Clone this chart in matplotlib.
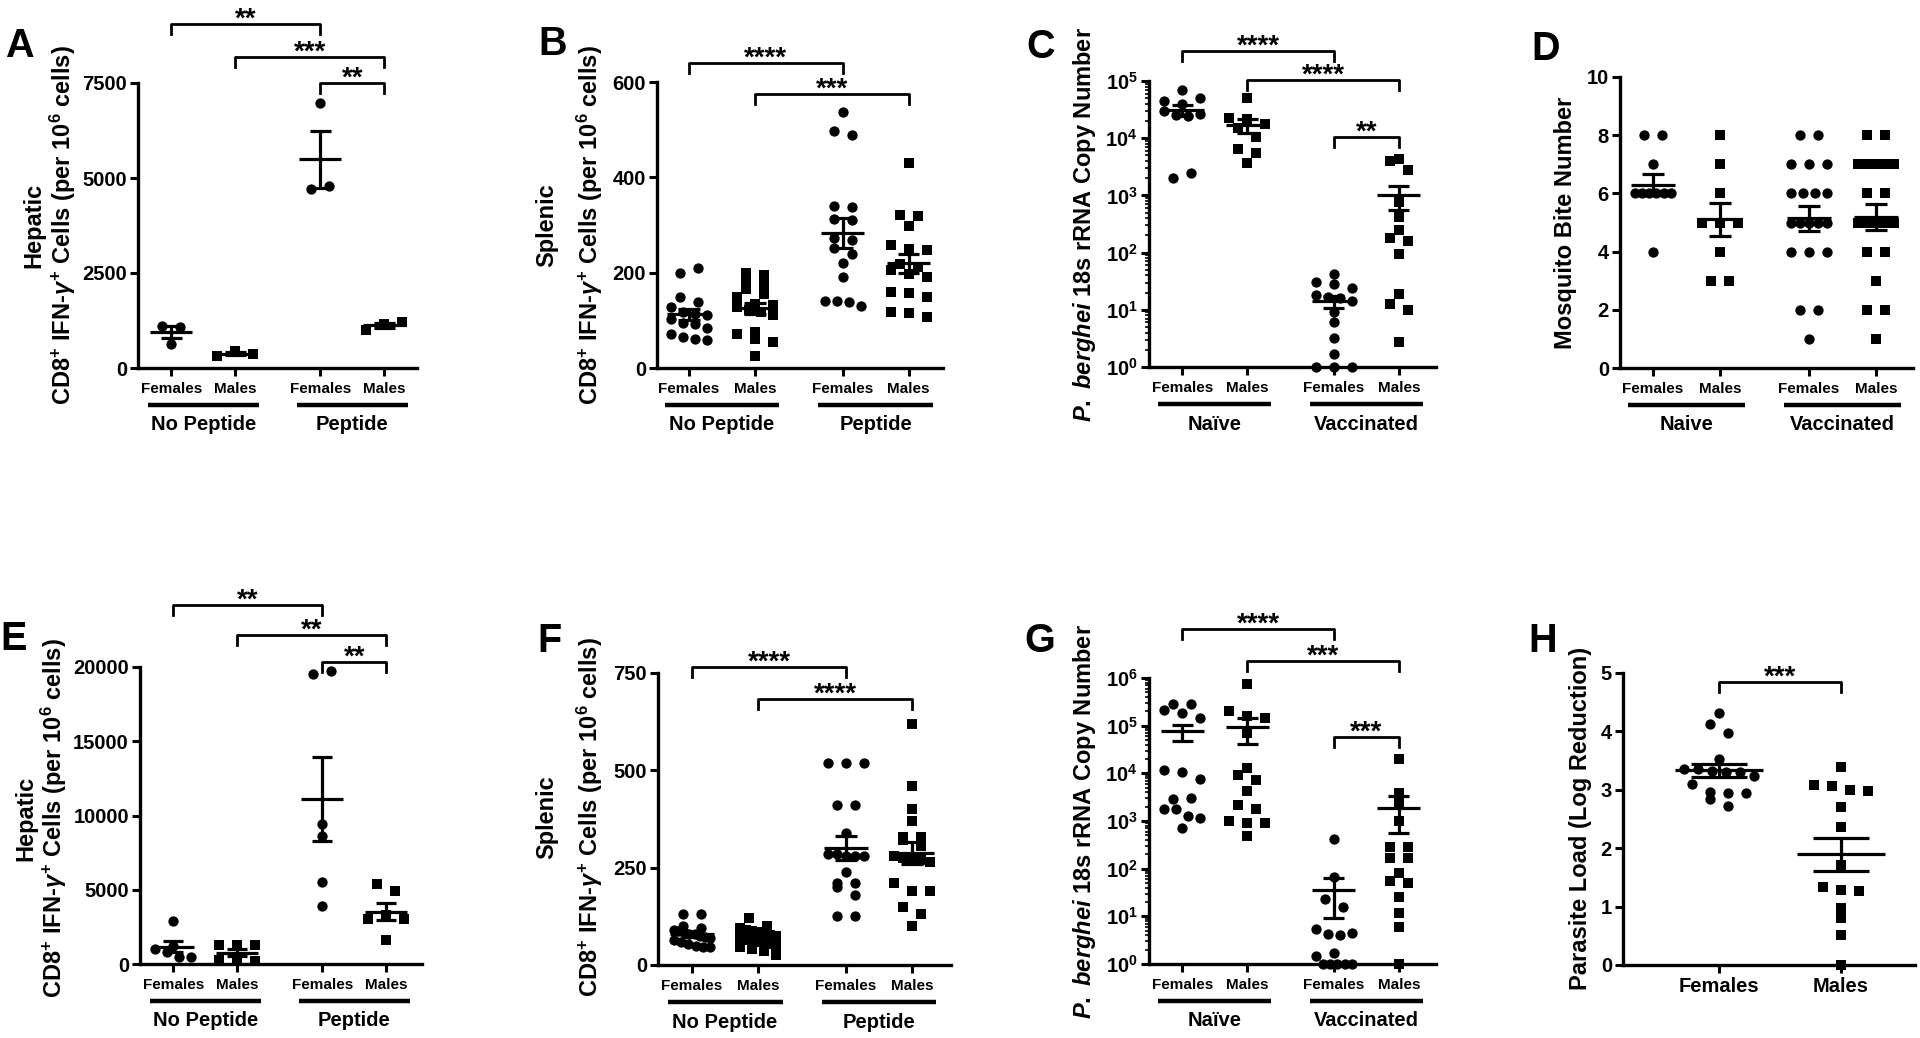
import matplotlib
matplotlib.use("Agg")
import matplotlib.pyplot as plt
import numpy as np
from matplotlib.ticker import LogLocator, NullFormatter

plt.rcParams.update({
    "font.family": ["Liberation Sans", "DejaVu Sans"],
    "font.weight": "bold",
    "mathtext.fontset": "custom",
    "mathtext.rm": "Liberation Sans:bold",
    "mathtext.it": "Liberation Sans:italic:bold",
    "mathtext.bf": "Liberation Sans:bold",
    "mathtext.sf": "Liberation Sans:bold",
})

FIG_W, FIG_H = 1920, 1038

# ---- data ----
CATS = ["Females", "Males", "Females", "Males"]
PEPTIDE_GROUPS = ["No Peptide", "Peptide"]
VACC_GROUPS = ["Naïve", "Vaccinated"]
VACC_GROUPS_D = ["Naive", "Vaccinated"]

# A: hepatic, cells per 10^6
A_F_NOPEP = [1100, 1090, 620]
A_M_NOPEP = [320, 440, 380]
A_F_PEP = [6980, 4700, 4790]
A_M_PEP = [1000, 1160, 1200]

# B: splenic
B_F_NOPEP = [200, 209, 149, 138, 129, 118, 114, 112, 103, 95, 92, 84, 72, 64, 60, 59]
B_M_NOPEP = [200, 195, 182, 175, 165, 155, 148, 135, 132, 128, 122, 118, 112, 75, 72, 60, 55, 25]
B_F_PEP = [538, 498, 488, 340, 338, 312, 310, 272, 268, 252, 240, 220, 190, 140, 140, 138, 130]
B_M_PEP = [430, 320, 318, 298, 258, 250, 248, 218, 212, 205, 198, 190, 160, 158, 150, 118, 115, 108]

# C: P. berghei 18s rRNA copy number
C_F_NAIVE = [70000, 45000, 40000, 50000, 30000, 25000, 24000, 26000, 2000, 2500]
C_M_NAIVE = [50000, 23000, 22000, 18000, 15000, 10500, 6500, 5500, 3700]
C_F_VACC = [42, 31, 28, 24, 18, 17, 16, 14, 9, 6, 3.2, 1.7, 1, 1, 1]
C_M_VACC = [4300, 4000, 2800, 780, 425, 246, 183, 160, 96, 19, 12.5, 9.8, 2.7]

# D: mosquito bite number
D_F_NAIVE = [8, 8, 7, 6, 6, 6, 6, 6, 6, 4]
D_M_NAIVE = [8, 7, 6, 5, 5, 5, 4, 3, 3]
D_F_VACC = [8, 8, 7, 7, 7, 6, 6, 6, 6, 5, 5, 5, 5, 5, 4, 4, 4, 2, 2, 1]
D_M_VACC = [8, 8, 7, 7, 7, 7, 7, 6, 6, 5, 5, 5, 5, 5, 5, 4, 4, 3, 2, 2, 1]

# E: hepatic (second experiment)
E_F_NOPEP = [2900, 1200, 1000, 800, 500, 500]
E_M_NOPEP = [1250, 1300, 1300, 300, 200, 200]
E_F_PEP = [19550, 19700, 9400, 8600, 5500, 3900]
E_M_PEP = [5400, 4900, 3000, 3300, 3000, 1600]

# F: splenic (second experiment)
F_F_NOPEP = [130, 130, 100, 95, 90, 88, 85, 80, 80, 75, 72, 70, 65, 60, 55, 50, 45, 45]
F_M_NOPEP = [120, 100, 95, 90, 88, 85, 80, 78, 75, 70, 65, 60, 55, 50, 45, 40, 35, 25]
F_F_PEP = [520, 520, 520, 410, 410, 340, 285, 285, 280, 280, 280, 240, 210, 210, 200, 180, 125, 125]
F_M_PEP = [620, 460, 400, 370, 330, 330, 320, 305, 280, 275, 275, 270, 265, 210, 190, 190, 150, 130, 100]

# G: copy number (second experiment)
G_F_NAIVE = [290000, 280000, 210000, 185000, 145000, 11500, 10700, 7700, 2900, 3000, 1750, 1780, 1300, 1150, 710]
G_M_NAIVE = [760000, 205000, 162000, 145000, 70000, 13000, 9300, 7100, 4200, 2200, 1800, 1000, 900, 900, 480]
G_F_VACC = [410, 67, 23, 16, 5.4, 4.3, 4.1, 4.4, 1.7, 1.5, 1, 1, 1, 1, 1]
G_M_VACC = [20400, 3800, 2400, 1000, 290, 290, 170, 165, 80, 55, 50, 25, 12, 6, 1]

# H: parasite load (log reduction)
H_CATS = ["Females", "Males"]
H_FEMALES = [4.31, 4.13, 3.97, 3.52, 3.35, 3.35, 3.33, 3.30, 3.30, 3.24, 3.10, 2.96, 2.95, 2.95, 2.85, 2.72]
H_MALES = [3.39, 3.09, 3.06, 2.99, 2.98, 2.71, 2.37, 1.71, 1.33, 1.29, 1.26, 0.97, 0.80, 0.51, 0.0]

POS4 = [1, 2, 3.33, 4.33]
MARKERS4 = ["o", "s", "o", "s"]

CELLS_LABEL = "CD8$^{+}$ IFN-$\\gamma^{+}$ Cells (per 10$^{6}$ cells)"
YLAB_HEP = ["Hepatic", CELLS_LABEL]
YLAB_SPL = ["Splenic", CELLS_LABEL]
YLAB_PB = ["$\\it{P.\\ berghei}$ 18s rRNA Copy Number"]


def make_axes(fig, left, right, top, bottom):
    return fig.add_axes([left / FIG_W, 1 - bottom / FIG_H, (right - left) / FIG_W, (bottom - top) / FIG_H])


def style_axes(ax):
    for side in ("top", "right"):
        ax.spines[side].set_visible(False)
    for side in ("left", "bottom"):
        ax.spines[side].set_linewidth(2.4)
    ax.tick_params(which="major", width=2.2, length=6, labelsize=14.5)
    ax.tick_params(axis="y", pad=2)


def row_offsets(ypix, max_half=18.0, step=18.0, row_h=9.5):
    # GraphPad-like layout: points that overlap vertically go side by side
    order = np.argsort(ypix, kind="stable")
    rows = []
    for i in order:
        if rows and ypix[i] - ypix[rows[-1][0]] < row_h:
            rows[-1].append(i)
        else:
            rows.append([i])
    offsets = np.zeros(len(ypix))
    for row in rows:
        n = len(row)
        if n == 1:
            continue
        sp = min(step, 2 * max_half / (n - 1))
        xs = (np.arange(n) - (n - 1) / 2) * sp
        for j, i in enumerate(sorted(row)):
            offsets[i] = xs[j]
    return offsets


def dot_column(ax, x, values, marker, max_half=18.0, mean_hw=0.33, cap_hw=0.16):
    vals = np.asarray(values, dtype=float)
    y0 = ax.get_ylim()[0] if ax.get_yscale() == "log" else 0.0
    pts = ax.transData.transform(np.column_stack([np.full(len(vals), x), vals]))
    ref = ax.transData.transform([[0.0, max(y0, 1.0)], [1.0, max(y0, 1.0)]])
    ppu = ref[1, 0] - ref[0, 0]
    off = row_offsets(pts[:, 1], max_half=max_half) / ppu
    size = 55 if marker == "o" else 45
    ax.scatter(x + off, vals, s=size, marker=marker, c="black", linewidths=0, clip_on=False, zorder=3)
    m = vals.mean()
    se = vals.std(ddof=1) / np.sqrt(len(vals))
    kw = dict(color="black", lw=2.3, zorder=4, clip_on=False)
    ax.hlines(m, x - mean_hw, x + mean_hw, **kw)
    ax.vlines(x, m - se, m + se, **kw)
    ax.hlines([m - se, m + se], x - cap_hw, x + cap_hw, **kw)


def group_labels(ax, positions, groups):
    h_px = ax.get_position().height * FIG_H
    tr = ax.get_xaxis_transform()
    for k, name in enumerate(groups):
        c = (positions[2 * k] + positions[2 * k + 1]) / 2
        ax.plot([c - 0.87, c + 0.87], [-37 / h_px] * 2, transform=tr, color="black",
                lw=3.2, clip_on=False, solid_capstyle="butt")
        ax.text(c, -57 / h_px, name, transform=tr, ha="center", va="center", fontsize=14.5)


def bracket(ax, x1, x2, yfrac, label):
    h_px = ax.get_position().height * FIG_H
    leg = 10 / h_px
    tr = ax.get_xaxis_transform()
    ax.plot([x1, x1, x2, x2], [yfrac - leg, yfrac, yfrac, yfrac - leg], transform=tr,
            color="black", lw=2.0, clip_on=False)
    ax.annotate(label, xy=((x1 + x2) / 2, yfrac), xycoords=tr, xytext=(0, -2),
                textcoords="offset points", ha="center", va="baseline", fontsize=20)


def ylabel_lines(fig, lines, baselines_x, yc):
    # each line is rotated 90 degrees, anchored on its baseline
    for text, bx in zip(lines, baselines_x):
        fig.text(bx / FIG_W, 1 - yc / FIG_H, text, rotation=90, rotation_mode="anchor",
                 ha="center", va="baseline", fontsize=17)


def panel(fig, box, xlim, ylim, yticks, groups_data, ylabel, ylabel_x, ylabel_y, letter, letter_xy,
          brackets, groups=None, log=False, positions=POS4, cats=CATS, markers=MARKERS4,
          max_half=18.0, mean_hw=0.33, cap_hw=0.16, cat_size=11, cat_pad=4):
    ax = make_axes(fig, *box)
    style_axes(ax)
    if log:
        ax.set_yscale("log")
    ax.set_xlim(*xlim)
    ax.set_ylim(*ylim)
    ax.set_yticks(yticks)
    if log:
        ax.set_yticklabels([f"$10^{{{int(np.log10(t))}}}$" for t in yticks])
        ax.yaxis.set_minor_locator(LogLocator(base=10, subs=np.arange(2, 10)))
        ax.yaxis.set_minor_formatter(NullFormatter())
        ax.tick_params(axis="y", which="minor", length=3, width=1.2)
    ax.set_xticks(positions)
    ax.set_xticklabels(cats, fontsize=cat_size)
    ax.tick_params(axis="x", pad=cat_pad)
    for x, vals, mk in zip(positions, groups_data, markers):
        dot_column(ax, x, vals, mk, max_half=max_half, mean_hw=mean_hw, cap_hw=cap_hw)
    if groups:
        group_labels(ax, positions, groups)
    for i1, i2, yf, lab in brackets:
        bracket(ax, positions[i1], positions[i2], yf, lab)
    ylabel_lines(fig, ylabel, ylabel_x, ylabel_y)
    fig.text(letter_xy[0] / FIG_W, 1 - letter_xy[1] / FIG_H, letter, ha="center",
             va="baseline", fontsize=28.5)
    return ax


fig = plt.figure(figsize=(FIG_W / 100, FIG_H / 100), dpi=100)

panel(fig, (138, 417, 83, 368), (0.48, 4.84), (0, 7500), [0, 2500, 5000, 7500],
      [A_F_NOPEP, A_M_NOPEP, A_F_PEP, A_M_PEP], YLAB_HEP, [40, 71], 225, "A", (19, 57),
      [(0, 2, 1.207, "**"), (1, 3, 1.091, "***"), (2, 3, 1.0, "**")], groups=PEPTIDE_GROUPS)

panel(fig, (657, 943, 82, 368), (0.515, 4.85), (0, 600), [0, 200, 400, 600],
      [B_F_NOPEP, B_M_NOPEP, B_F_PEP, B_M_PEP], YLAB_SPL, [553, 598], 225, "B", (553, 55),
      [(0, 2, 1.066, "****"), (1, 3, 0.958, "***")], groups=PEPTIDE_GROUPS)

panel(fig, (1149, 1436, 81, 367), (0.49, 4.9), (1, 1e5), [1, 10, 100, 1e3, 1e4, 1e5],
      [C_F_NAIVE, C_M_NAIVE, C_F_VACC, C_M_VACC], YLAB_PB, [1091], 225, "C", (1041, 58),
      [(0, 2, 1.104, "****"), (1, 3, 1.003, "****"), (2, 3, 0.804, "**")],
      groups=VACC_GROUPS, log=True)

panel(fig, (1620, 1913, 77, 368), (0.51, 4.88), (0, 10), [0, 2, 4, 6, 8, 10],
      [D_F_NAIVE, D_M_NAIVE, D_F_VACC, D_M_VACC], ["Mosquito Bite Number"], [1572], 223, "D",
      (1546, 60), [], groups=VACC_GROUPS_D)

panel(fig, (140, 422, 667, 964), (0.48, 4.89), (0, 20000), [0, 5000, 10000, 15000, 20000],
      [E_F_NOPEP, E_M_NOPEP, E_F_PEP, E_M_PEP], YLAB_HEP, [32, 62], 818, "E", (14, 650),
      [(0, 2, 1.209, "**"), (1, 3, 1.108, "**"), (2, 3, 1.017, "**")], groups=PEPTIDE_GROUPS)

panel(fig, (658, 951, 673, 965), (0.485, 4.92), (0, 750), [0, 250, 500, 750],
      [F_F_NOPEP, F_M_NOPEP, F_F_PEP, F_M_PEP], YLAB_SPL, [553, 598], 817, "F", (549, 652),
      [(0, 2, 1.021, "****"), (1, 3, 0.911, "****")], groups=PEPTIDE_GROUPS)

panel(fig, (1149, 1436, 678, 964), (0.49, 4.9), (1, 1e6), [1, 10, 100, 1e3, 1e4, 1e5, 1e6],
      [G_F_NAIVE, G_M_NAIVE, G_F_VACC, G_M_VACC], YLAB_PB, [1091], 822, "G", (1040, 652),
      [(0, 2, 1.171, "****"), (1, 3, 1.059, "***"), (2, 3, 0.794, "***")],
      groups=VACC_GROUPS, log=True)

panel(fig, (1623, 1915, 673, 965), (0.21, 2.61), (0, 5), [0, 1, 2, 3, 4, 5],
      [H_FEMALES, H_MALES], ["Parasite Load (Log Reduction)"], [1587], 818, "H", (1543, 652),
      [(0, 1, 0.969, "***")], positions=[1, 2], cats=H_CATS, markers=["o", "s"],
      max_half=35.0, mean_hw=0.36, cap_hw=0.23, cat_size=14.5, cat_pad=3)

fig.savefig("out.png", dpi=100, facecolor="white")
